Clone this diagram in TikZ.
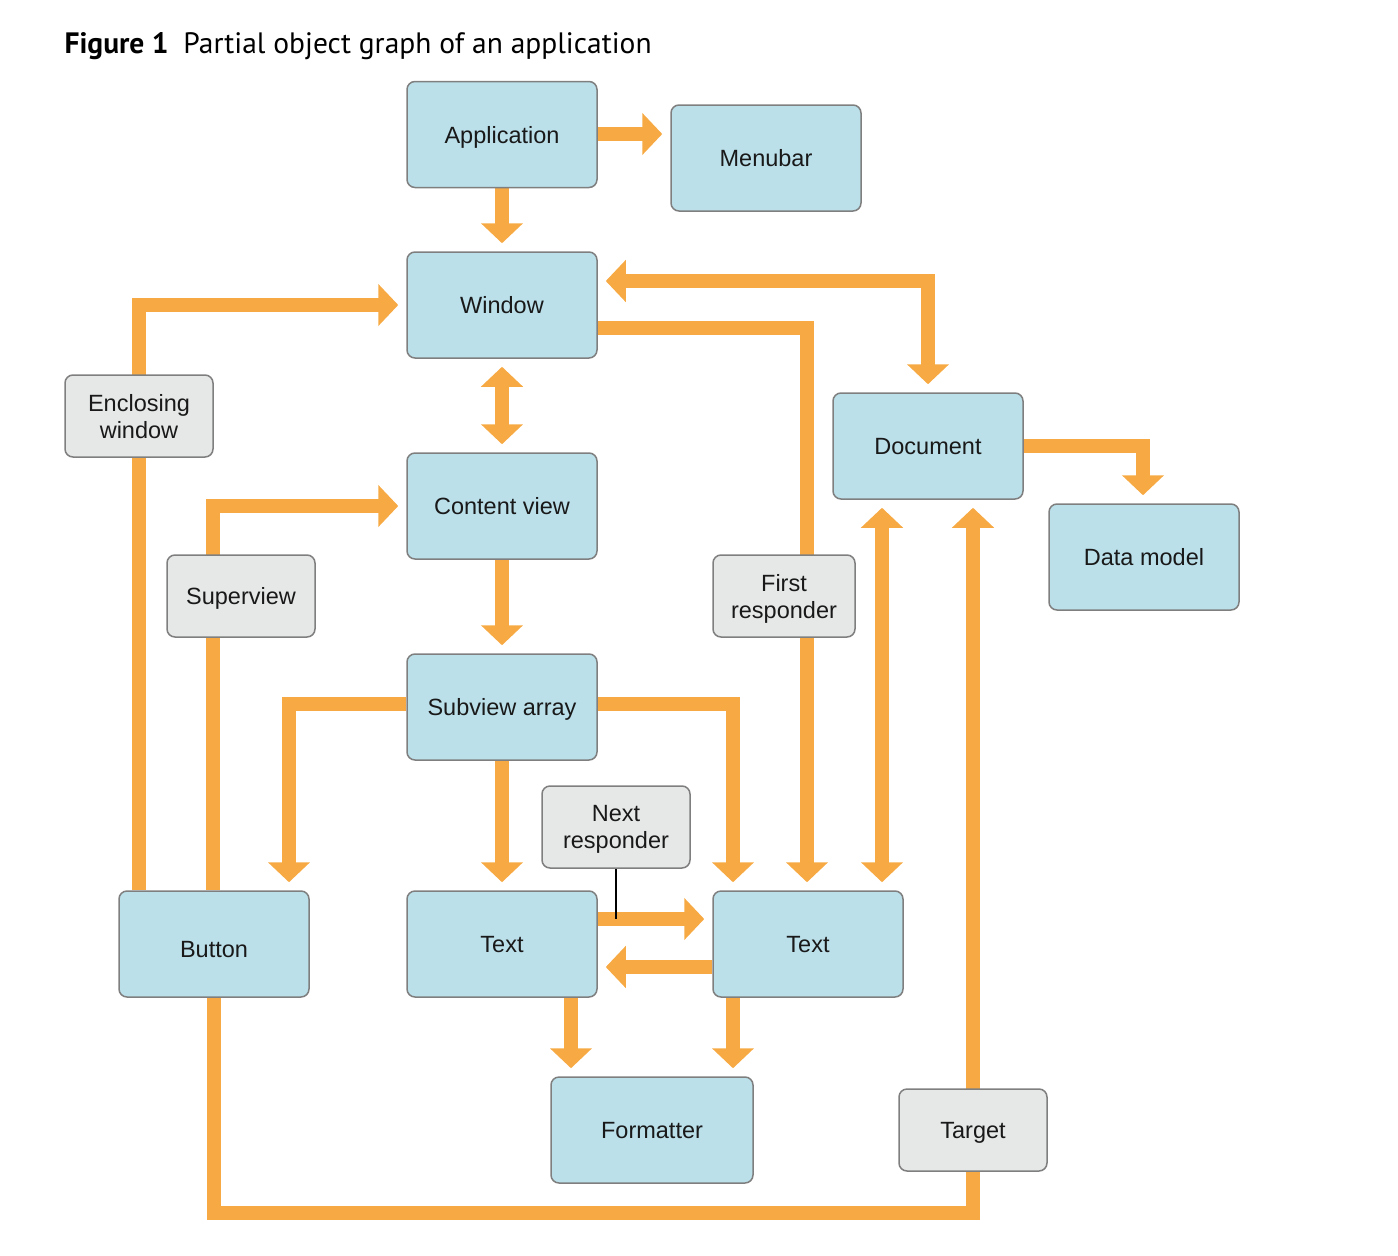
\documentclass[tikz,border=0pt]{standalone}
\usepackage{fontspec}
\setmainfont{Liberation Sans}
\newfontfamily\titlefont{PT Sans}
\usetikzlibrary{arrows.meta,backgrounds}
\definecolor{arrorange}{HTML}{F7AA43}
\definecolor{boxblue}{HTML}{BBE0EA}
\definecolor{boxgray}{HTML}{E6E7E7}
\definecolor{boxline}{HTML}{7F7F7F}
\tikzset{
  objbox/.style={draw=boxline, line width=1.5pt, fill=boxblue, rounded corners=8pt,
    minimum width=190pt, minimum height=106pt, inner sep=0pt, text depth=-1pt,
    font=\fontsize{23.5}{27}\selectfont, text=black!90, align=center},
  tagbox/.style={objbox, fill=boxgray, minimum width=148pt, minimum height=82pt},
  arr/.style={draw=arrorange, line width=14.5pt, line join=miter,
    -{Triangle[width=41pt,length=20pt]}, shorten >=8pt},
  arrr/.style={arr, {Triangle[width=41pt,length=20pt]}-{Triangle[width=41pt,length=20pt]}, shorten <=8pt}
}
\begin{document}
\begin{tikzpicture}[x=1pt,y=-1pt]
\useasboundingbox (0,0) rectangle (1398,1256);
\node[anchor=west, font=\titlefont\fontsize{29.5}{32}\selectfont] (title) at (61,46) {\textbf{Figure 1}\hspace{0.5em}Partial object graph of an application};

\node[objbox] (app) at (502,134.5) {Application};
\node[objbox] (menubar) at (766,158) {Menubar};
\node[objbox] (window) at (502,305) {Window};
\node[objbox] (content) at (502,506) {Content view};
\node[objbox] (subview) at (502,707) {Subview array};
\node[objbox] (text1) at (502,944) {Text};
\node[objbox] (text2) at (808,944) {Text};
\node[objbox] (button) at (214,944) {\raisebox{-5pt}[\height][\depth]{Button}};
\node[objbox, minimum width=202pt] (formatter) at (652,1130) {Formatter};
\node[objbox] (document) at (928,446) {Document};
\node[objbox] (datamodel) at (1144,557) {Data model};

\node[tagbox] (enclosing) at (139,416) {Enclosing\\window};
\node[tagbox] (superview) at (241,596) {Superview};
\node[tagbox, minimum width=142pt] (firstresp) at (784,596) {First\\responder};
\node[tagbox] (nextresp) at (616,827) {Next\\responder};
\node[tagbox] (target) at (973,1130) {Target};

\coordinate (rail) at (973,1213);
\coordinate (nrend) at (616,919);

\begin{scope}[on background layer]
\draw[arr] (app.east |- 0,134) -- (menubar.west |- 0,134);
\draw[arr] (app.south) -- (window.north);
\draw[arrr] (window.south) -- (content.north);
\draw[arr] (content.south) -- (subview.north);
\draw[arr] (subview.south) -- (text1.north);
\draw[arr] ([yshift=3pt]subview.west) -| ([xshift=75pt]button.north);
\draw[arr] ([yshift=3pt]subview.east) -| ([xshift=-75pt]text2.north);
\draw[arr] ([xshift=-75pt]button.north) |- (window.west);
\draw[arr] ([xshift=-1pt]button.north) |- (content.west);
\draw[arrr] ([yshift=24pt]window.east) -| (document.north);
\draw[arr] ([yshift=-23pt]window.east) -| ([xshift=-1pt]text2.north);
\draw[arr] (document.east) -| ([xshift=-1pt]datamodel.north);
\draw[arrr] ([xshift=74pt]text2.north |- document.south) -- ([xshift=74pt]text2.north);
\draw[arr] (button.south) |- (rail) -- ([xshift=45pt]document.south);
\draw[arr] ([yshift=25pt]text1.east) -- ([yshift=25pt]text1.east -| text2.west);
\draw[arr] ([yshift=-23pt]text2.west) -- ([yshift=-23pt]text2.west -| text1.east);
\draw[arr] ([xshift=69pt]text1.south) -- ([xshift=69pt]text1.south |- formatter.north);
\draw[arr] ([xshift=-75pt]text2.south) -- ([xshift=-75pt]text2.south |- formatter.north);
\end{scope}
\draw[black, line width=1.5pt] (nextresp.south) -- (nrend);
\end{tikzpicture}
\end{document}
